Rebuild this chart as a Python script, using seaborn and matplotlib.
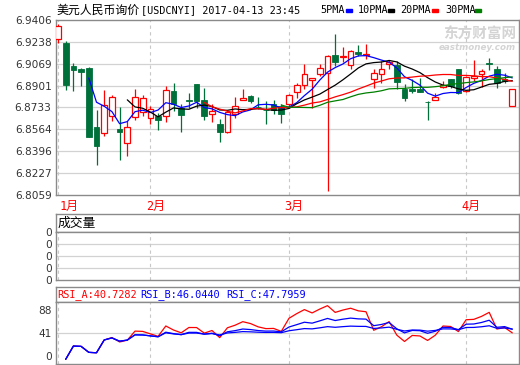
import numpy as np
import pandas as pd
import matplotlib
matplotlib.use("Agg")
import matplotlib.pyplot as plt
from matplotlib import transforms as mtrans
from matplotlib.patches import Rectangle
import seaborn as sns

# ---------------- data ----------------
opens = [6.9259, 6.9226, 6.9050, 6.9027, 6.9035, 6.8586, 6.8537, 6.8665, 6.8570, 6.8459,
         6.8658, 6.8699, 6.8650, 6.8665, 6.8665, 6.8859, 6.8730, 6.8788, 6.8911, 6.8787,
         6.8684, 6.8609, 6.8541, 6.8686, 6.8792, 6.8820, 6.8740, 6.8717, 6.8761, 6.8743,
         6.8763, 6.8851, 6.8905, 6.8944, 6.8988, 6.9001, 6.9135, 6.9124, 6.9058, 6.9156,
         6.9140, 6.8953, 6.8988, 6.9066, 6.9058, 6.8872, 6.8872, 6.8877, 6.8775, 6.8789,
         6.8893, 6.8949, 6.9027, 6.8859, 6.8959, 6.8993, 6.9073, 6.9032, 6.8955, 6.8743]
highs = [6.9375, 6.9241, 6.9076, 6.9037, 6.9043, 6.8717, 6.8867, 6.8826, 6.8733, 6.8627,
         6.8872, 6.8826, 6.8743, 6.8691, 6.8898, 6.8924, 6.8756, 6.8841, 6.8911, 6.8885,
         6.8756, 6.8645, 6.8717, 6.8815, 6.8872, 6.8828, 6.8815, 6.8781, 6.8787, 6.8756,
         6.8834, 6.8918, 6.9066, 6.8963, 6.9066, 6.9135, 6.9298, 6.9195, 6.9176, 6.9212,
         6.9220, 6.9032, 6.9091, 6.9099, 6.9091, 6.8916, 6.8949, 6.8962, 6.8781, 6.8841,
         6.8936, 6.8949, 6.9027, 6.8975, 6.9096, 6.9027, 6.9110, 6.9052, 6.8996, 6.8872]
lows = [6.9226, 6.8870, 6.8859, 6.8898, 6.8503, 6.8291, 6.8511, 6.8627, 6.8330, 6.8356,
        6.8640, 6.8665, 6.8606, 6.8557, 6.8622, 6.8704, 6.8541, 6.8725, 6.8725, 6.8634,
        6.8619, 6.8464, 6.8537, 6.8653, 6.8792, 6.8769, 6.8722, 6.8606, 6.8679, 6.8616,
        6.8730, 6.8808, 6.8872, 6.8730, 6.8975, 6.8093, 6.9052, 6.9079, 6.9032, 6.9130,
        6.9104, 6.8885, 6.8924, 6.9027, 6.8872, 6.8782, 6.8841, 6.8851, 6.8640, 6.8789,
        6.8885, 6.8885, 6.8833, 6.8851, 6.8936, 6.8890, 6.9022, 6.8885, 6.8918, 6.8743]
closes = [6.9362, 6.8905, 6.9019, 6.9006, 6.8503, 6.8433, 6.8748, 6.8815, 6.8541, 6.8583,
          6.8815, 6.8805, 6.8723, 6.8640, 6.8864, 6.8756, 6.8678, 6.8783, 6.8782, 6.8665,
          6.8704, 6.8541, 6.8696, 6.8743, 6.8808, 6.8782, 6.8738, 6.8715, 6.8717, 6.8686,
          6.8826, 6.8903, 6.8988, 6.8962, 6.9040, 6.9130, 6.9079, 6.9126, 6.9164, 6.9148,
          6.9143, 6.9001, 6.9032, 6.9083, 6.8929, 6.8802, 6.8859, 6.8851, 6.8773, 6.8815,
          6.8903, 6.8898, 6.8846, 6.8970, 6.8975, 6.9011, 6.9067, 6.8918, 6.8934, 6.8872]

month_labels = ["1月", "2月", "3月", "4月"]
month_idx = [0, 12, 30, 53]
price_ticks = [6.9406, 6.9238, 6.9069, 6.8901, 6.8733, 6.8564, 6.8396, 6.8227, 6.8059]
ma_names = ["5PMA", "10PMA", "20PMA", "30PMA"]
ma_windows = [5, 10, 20, 30]
rsi_windows = [6, 12, 24]
rsi_header = ["RSI_A:40.7282", "RSI_B:46.0440", "RSI_C:47.7959"]
rsi_tick_labels = ["0", "41", "88"]
vol_tick_labels = ["0", "0", "0", "0", "0"]
title_cn = "美元人民币询价"
title_code = "[USDCNYI] 2017-04-13 23:45"

# ---------------- style ----------------
RED = "#ff0000"
GREEN = "#00703a"
BLUE = "#0000ff"
ma_colors = [BLUE, "#000000", RED, "#008000"]
rsi_colors = [RED, BLUE, BLUE]
BORDER = "#8a8a8a"
GRID = "#d2d2d2"
TXT = "#333333"

sns.set_theme(style="white")
plt.rcParams["font.family"] = ["DejaVu Sans", "Noto Sans CJK SC"]
MONO = ["DejaVu Sans Mono", "Noto Sans CJK SC"]
CJK = ["Noto Sans CJK SC", "DejaVu Sans"]

W, H = 520, 365
fig = plt.figure(figsize=(W / 100, H / 100), dpi=100)
fig.patch.set_facecolor("white")

L, R = 55.7, 518.5
STEP = 7.7      # pixels per candle
X0 = 58.0       # pixel of first candle
xlim = (-(X0 - L) / STEP, (R - X0) / STEP)


def ax_px(x0, y0, x1, y1):
    a = fig.add_axes([x0 / W, 1 - y1 / H, (x1 - x0) / W, (y1 - y0) / H])
    for s in a.spines.values():
        s.set_color(BORDER)
        s.set_linewidth(1.0)
        s.set_visible(True)
    a.set_facecolor("white")
    a.tick_params(length=0, pad=3, labelsize=7.6, colors=TXT)
    return a


def month_lines(a):
    for m in month_idx:
        a.axvline(m, color="#c8c8c8", lw=0.8, ls=(0, (3, 3)), zorder=0.5)


n = len(closes)
idx = np.arange(n)
df = pd.DataFrame({"i": idx, "open": opens, "high": highs, "low": lows, "close": closes})

# ---------------- main price panel ----------------
ax = ax_px(L, 20, R, 195)
ax.set_xlim(*xlim)
ax.set_ylim(price_ticks[-1], price_ticks[0])
ax.set_yticks(price_ticks)
ax.set_yticklabels([f"{v:.4f}" for v in price_ticks])
ax.set_xticks([])
for v in price_ticks[1:-1]:
    ax.axhline(v, color=GRID, lw=0.9, zorder=0.4)
month_lines(ax)

bw = 0.74
for r in df.itertuples():
    up = r.close >= r.open
    lo_b, hi_b = min(r.open, r.close), max(r.open, r.close)
    if up:
        ax.vlines(r.i, r.low, lo_b, color=RED, lw=0.9, zorder=2)
        ax.vlines(r.i, hi_b, r.high, color=RED, lw=0.9, zorder=2)
        ax.bar(r.i, max(hi_b - lo_b, 0.00012), bottom=lo_b, width=bw,
               facecolor="white", edgecolor=RED, linewidth=0.9, zorder=3)
    else:
        ax.vlines(r.i, r.low, r.high, color=GREEN, lw=0.9, zorder=2)
        ax.bar(r.i, max(hi_b - lo_b, 0.00012), bottom=lo_b, width=bw,
               facecolor=GREEN, edgecolor=GREEN, linewidth=0.6, zorder=3)

for w, col in zip(ma_windows, ma_colors):
    ma = df["close"].rolling(w).mean()
    d = pd.DataFrame({"i": idx, "v": ma}).dropna()
    sns.lineplot(data=d, x="i", y="v", ax=ax, color=col, lw=0.9, zorder=4)
ax.set_xlabel("")
ax.set_ylabel("")

# watermark
ax.text(0.995, 0.965, "东方财富网", transform=ax.transAxes, ha="right", va="top",
        fontsize=10.5, fontweight="bold", color="#d4d4d4", family=CJK, zorder=1)
ax.text(0.995, 0.87, "eastmoney.com", transform=ax.transAxes, ha="right", va="top",
        fontsize=6.3, fontweight="bold", style="italic", color="#d4d4d4", zorder=1)

# month labels
for k, (pos, lab) in enumerate(zip(month_idx, month_labels)):
    dx = 2.0 if k == 0 else -4.5
    tr = mtrans.offset_copy(ax.get_xaxis_transform(), fig=fig, x=dx, y=0, units="dots")
    ax.text(pos, -11 / 175, lab, transform=tr, ha="left", va="center",
            fontsize=8.6, color=RED, family=MONO)

# ---------------- volume panel ----------------
axvh = ax_px(L, 214.3, R, 232.3)
axvh.set_xticks([]); axvh.set_yticks([])
axvh.text(0.004, 0.5, "成交量", transform=axvh.transAxes, ha="left", va="center",
          fontsize=9.2, color="#000000", family=CJK)

axv = ax_px(L, 232.3, R, 280.3)
axv.set_xlim(*xlim)
axv.set_ylim(0, 4)
axv.set_yticks([0, 1, 2, 3, 4])
axv.set_yticklabels(vol_tick_labels)
axv.set_xticks([])
for v in [1, 2, 3]:
    axv.axhline(v, color=GRID, lw=0.9, zorder=0.4)
month_lines(axv)

# ---------------- RSI panel ----------------
axrh = ax_px(L, 287.3, R, 301.7)
axrh.set_xticks([]); axrh.set_yticks([])
for xp, txt, col in zip([57.3, 140.7, 226.7], rsi_header, [RED, BLUE, BLUE]):
    fig.text(xp / W, 1 - 294.5 / H, txt, ha="left", va="center",
             fontsize=7.4, color=col, family=MONO)


def rsi_calc(vals, nwin):
    c = np.asarray(vals, dtype=float)
    dlt = np.diff(c)
    upm = np.clip(dlt, 0, None)
    abm = np.abs(dlt)
    out = [np.nan]
    au = aa = 0.0
    for t in range(len(dlt)):
        if t < nwin:
            au = upm[:t + 1].mean()
            aa = abm[:t + 1].mean()
        else:
            au = (au * (nwin - 1) + upm[t]) / nwin
            aa = (aa * (nwin - 1) + abm[t]) / nwin
        out.append(100 * au / aa)
    return np.array(out)


axr = ax_px(L, 301.7, R, 364.3)
axr.set_xlim(*xlim)
axr.set_xticks([])
for w, col in zip(rsi_windows, rsi_colors):
    d = pd.DataFrame({"i": idx, "v": rsi_calc(closes, w)}).dropna()
    sns.lineplot(data=d, x="i", y="v", ax=axr, color=col, lw=0.9, zorder=3)
axr.set_xlabel(""); axr.set_ylabel("")
# pixel scale of the reference panel: value 0 at y=359.3, 0.663 px per unit
PX = 0.663
axr.set_ylim(-(364.3 - 359.3) / PX, (359.3 - 301.7) / PX)
tick_pos = [(359.3 - yp) / PX for yp in (356.0, 333.3, 310.5)]
axr.set_yticks(tick_pos)
axr.set_yticklabels(rsi_tick_labels)
axr.axhline(tick_pos[1], color=GRID, lw=0.9, zorder=0.4)
month_lines(axr)

# ---------------- header ----------------
fig.text(56 / W, 1 - 10 / H, title_cn, ha="left", va="center", fontsize=8.6,
         color="#000000", family=CJK)
fig.text(141 / W, 1 - 10 / H, title_code, ha="left", va="center", fontsize=7.3,
         color="#000000", family=MONO)
leg_x = [320, 357.3, 400, 445]
rect_x = [346, 388, 432, 475]
for name, col, tx, rx in zip(ma_names, ma_colors, leg_x, rect_x):
    fig.text(tx / W, 1 - 10 / H, name, ha="left", va="center", fontsize=7.3,
             color="#000000", family=MONO)
    fig.patches.append(Rectangle((rx / W, 1 - 11.5 / H), 6 / W, 3 / H,
                                 transform=fig.transFigure, color=col))

fig.savefig("out.png", dpi=100, facecolor="white")
